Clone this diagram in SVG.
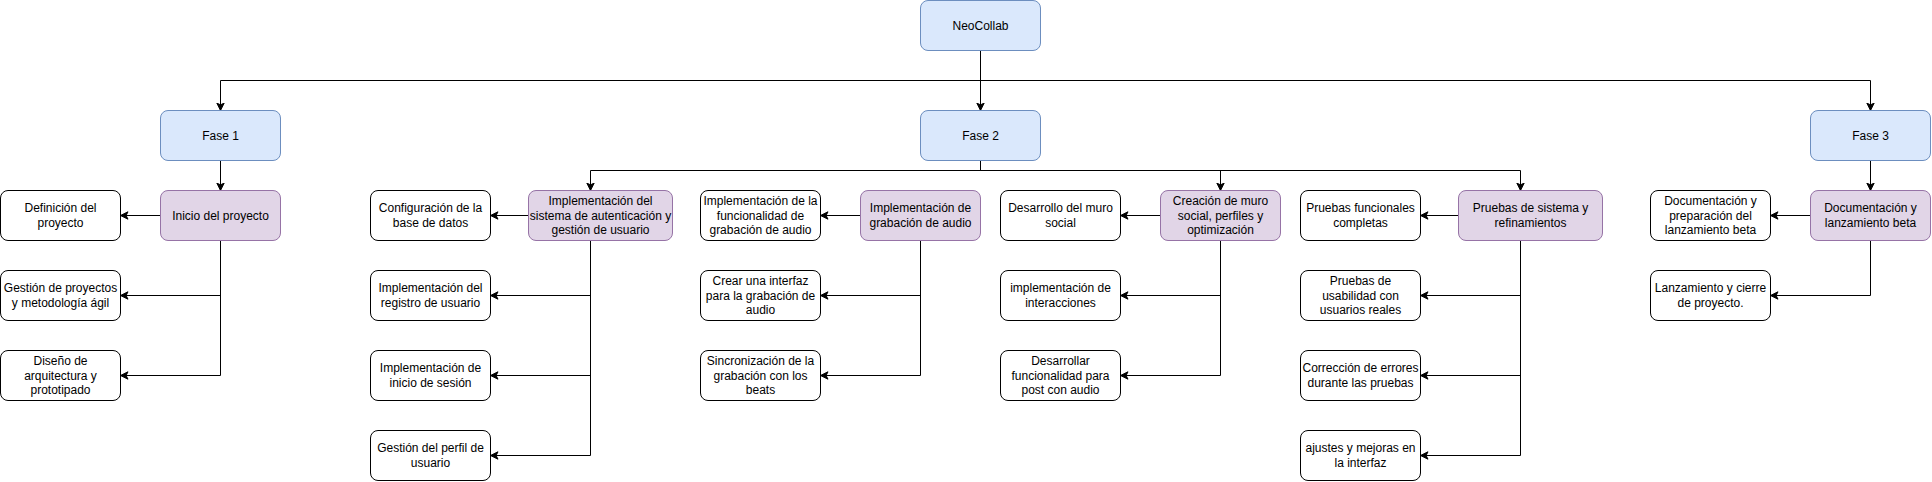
<svg xmlns="http://www.w3.org/2000/svg" width="1932" height="482" viewBox="0 0 1932 482">
<style>
.b{fill:#dae8fc;stroke:#6c8ebf;stroke-width:1}
.p{fill:#e1d5e7;stroke:#9673a6;stroke-width:1}
.w{fill:#ffffff;stroke:#000000;stroke-width:1}
text{font-family:"Liberation Sans",Arial,Helvetica,sans-serif;font-size:12px;fill:#000;text-anchor:middle}
.c path{fill:none;stroke:#000;stroke-width:1;marker-end:url(#arr)}
</style>
<defs>
<marker id="arr" markerUnits="userSpaceOnUse" markerWidth="10" markerHeight="10" refX="8" refY="4.5" orient="auto" viewBox="0 0 10 10">
<path d="M0.5,0.8 L8,4.5 L0.5,8.2 L2.4,4.5 Z" fill="#000" stroke="#000" stroke-width="1"/>
</marker>
</defs>
<rect width="1932" height="482" fill="#ffffff"/>
<g class="c" id="connectors">
<path d="M980.5,50.5 V80.5 H220.5 V110.5"/>
<path d="M980.5,50.5 V110.5"/>
<path d="M980.5,50.5 V80.5 H1870.5 V110.5"/>
<path d="M220.5,160.5 V190.5"/>
<path d="M160.5,215.5 H120.5"/>
<path d="M220.5,240.5 V295.5 H120.5"/>
<path d="M220.5,240.5 V375.5 H120.5"/>
<path d="M980.5,160.5 V170.5 H590.5 V190.5"/>
<path d="M980.5,160.5 V170.5 H1220.5 V190.5"/>
<path d="M980.5,160.5 V170.5 H1520.5 V190.5"/>
<path d="M528.5,215.5 H490.5"/>
<path d="M590.5,240.5 V295.5 H490.5"/>
<path d="M590.5,240.5 V375.5 H490.5"/>
<path d="M590.5,240.5 V455.5 H490.5"/>
<path d="M860.5,215.5 H820.5"/>
<path d="M920.5,240.5 V295.5 H820.5"/>
<path d="M920.5,240.5 V375.5 H820.5"/>
<path d="M1160.5,215.5 H1120.5"/>
<path d="M1220.5,240.5 V295.5 H1120.5"/>
<path d="M1220.5,240.5 V375.5 H1120.5"/>
<path d="M1458.5,215.5 H1420.5"/>
<path d="M1520.5,240.5 V295.5 H1420.5"/>
<path d="M1520.5,240.5 V375.5 H1420.5"/>
<path d="M1520.5,240.5 V455.5 H1420.5"/>
<path d="M1870.5,160.5 V190.5"/>
<path d="M1810.5,215.5 H1770.5"/>
<path d="M1870.5,240.5 V295.5 H1770.5"/>
</g>

<g id="neocollab"><rect class="b" x="920.5" y="0.5" width="120" height="50" rx="7.5"/><text x="980.5" y="29.5">NeoCollab</text></g>
<g id="fase1"><rect class="b" x="160.5" y="110.5" width="120" height="50" rx="7.5"/><text x="220.5" y="139.5">Fase 1</text></g>
<g id="fase2"><rect class="b" x="920.5" y="110.5" width="120" height="50" rx="7.5"/><text x="980.5" y="139.5">Fase 2</text></g>
<g id="fase3"><rect class="b" x="1810.5" y="110.5" width="120" height="50" rx="7.5"/><text x="1870.5" y="139.5">Fase 3</text></g>

<g id="inicio"><rect class="p" x="160.5" y="190.5" width="120" height="50" rx="7.5"/><text x="220.5" y="219.5">Inicio del proyecto</text></g>
<g id="definicion"><rect class="w" x="0.5" y="190.5" width="120" height="50" rx="7.5"/><text x="60.5" y="212.3">Definición del<tspan x="60.5" dy="14.4">proyecto</tspan></text></g>
<g id="gestion-proyectos"><rect class="w" x="0.5" y="270.5" width="120" height="50" rx="7.5"/><text x="60.5" y="292.3">Gestión de proyectos<tspan x="60.5" dy="14.4">y metodología ágil</tspan></text></g>
<g id="diseno"><rect class="w" x="0.5" y="350.5" width="120" height="50" rx="7.5"/><text x="60.5" y="365.1">Diseño de<tspan x="60.5" dy="14.4">arquitectura y</tspan><tspan x="60.5" dy="14.4">prototipado</tspan></text></g>

<g id="auth"><rect class="p" x="528.5" y="190.5" width="144" height="50" rx="7.5"/><text x="600.5" y="205.1">Implementación del<tspan x="600.5" dy="14.4">sistema de autenticación y</tspan><tspan x="600.5" dy="14.4">gestión de usuario</tspan></text></g>
<g id="config-bd"><rect class="w" x="370.5" y="190.5" width="120" height="50" rx="7.5"/><text x="430.5" y="212.3">Configuración de la<tspan x="430.5" dy="14.4">base de datos</tspan></text></g>
<g id="registro"><rect class="w" x="370.5" y="270.5" width="120" height="50" rx="7.5"/><text x="430.5" y="292.3">Implementación del<tspan x="430.5" dy="14.4">registro de usuario</tspan></text></g>
<g id="inicio-sesion"><rect class="w" x="370.5" y="350.5" width="120" height="50" rx="7.5"/><text x="430.5" y="372.3">Implementación de<tspan x="430.5" dy="14.4">inicio de sesión</tspan></text></g>
<g id="perfil"><rect class="w" x="370.5" y="430.5" width="120" height="50" rx="7.5"/><text x="430.5" y="452.3">Gestión del perfil de<tspan x="430.5" dy="14.4">usuario</tspan></text></g>

<g id="grabacion"><rect class="p" x="860.5" y="190.5" width="120" height="50" rx="7.5"/><text x="920.5" y="212.3">Implementación de<tspan x="920.5" dy="14.4">grabación de audio</tspan></text></g>
<g id="func-grabacion"><rect class="w" x="700.5" y="190.5" width="120" height="50" rx="7.5"/><text x="760.5" y="205.1">Implementación de la<tspan x="760.5" dy="14.4">funcionalidad de</tspan><tspan x="760.5" dy="14.4">grabación de audio</tspan></text></g>
<g id="interfaz-grabacion"><rect class="w" x="700.5" y="270.5" width="120" height="50" rx="7.5"/><text x="760.5" y="285.1">Crear una interfaz<tspan x="760.5" dy="14.4">para la grabación de</tspan><tspan x="760.5" dy="14.4">audio</tspan></text></g>
<g id="sincronizacion"><rect class="w" x="700.5" y="350.5" width="120" height="50" rx="7.5"/><text x="760.5" y="365.1">Sincronización de la<tspan x="760.5" dy="14.4">grabación con los</tspan><tspan x="760.5" dy="14.4">beats</tspan></text></g>

<g id="muro"><rect class="p" x="1160.5" y="190.5" width="120" height="50" rx="7.5"/><text x="1220.5" y="205.1">Creación de muro<tspan x="1220.5" dy="14.4">social, perfiles y</tspan><tspan x="1220.5" dy="14.4">optimización</tspan></text></g>
<g id="desarrollo-muro"><rect class="w" x="1000.5" y="190.5" width="120" height="50" rx="7.5"/><text x="1060.5" y="212.3">Desarrollo del muro<tspan x="1060.5" dy="14.4">social</tspan></text></g>
<g id="interacciones"><rect class="w" x="1000.5" y="270.5" width="120" height="50" rx="7.5"/><text x="1060.5" y="292.3">implementación de<tspan x="1060.5" dy="14.4">interacciones</tspan></text></g>
<g id="post-audio"><rect class="w" x="1000.5" y="350.5" width="120" height="50" rx="7.5"/><text x="1060.5" y="365.1">Desarrollar<tspan x="1060.5" dy="14.4">funcionalidad para</tspan><tspan x="1060.5" dy="14.4">post con audio</tspan></text></g>

<g id="pruebas"><rect class="p" x="1458.5" y="190.5" width="144" height="50" rx="7.5"/><text x="1530.5" y="212.3">Pruebas de sistema y<tspan x="1530.5" dy="14.4">refinamientos</tspan></text></g>
<g id="funcionales"><rect class="w" x="1300.5" y="190.5" width="120" height="50" rx="7.5"/><text x="1360.5" y="212.3">Pruebas funcionales<tspan x="1360.5" dy="14.4">completas</tspan></text></g>
<g id="usabilidad"><rect class="w" x="1300.5" y="270.5" width="120" height="50" rx="7.5"/><text x="1360.5" y="285.1">Pruebas de<tspan x="1360.5" dy="14.4">usabilidad con</tspan><tspan x="1360.5" dy="14.4">usuarios reales</tspan></text></g>
<g id="correccion"><rect class="w" x="1300.5" y="350.5" width="120" height="50" rx="7.5"/><text x="1360.5" y="372.3">Corrección de errores<tspan x="1360.5" dy="14.4">durante las pruebas</tspan></text></g>
<g id="ajustes"><rect class="w" x="1300.5" y="430.5" width="120" height="50" rx="7.5"/><text x="1360.5" y="452.3">ajustes y mejoras en<tspan x="1360.5" dy="14.4">la interfaz</tspan></text></g>

<g id="doc-lanzamiento"><rect class="p" x="1810.5" y="190.5" width="120" height="50" rx="7.5"/><text x="1870.5" y="212.3">Documentación y<tspan x="1870.5" dy="14.4">lanzamiento beta</tspan></text></g>
<g id="doc-preparacion"><rect class="w" x="1650.5" y="190.5" width="120" height="50" rx="7.5"/><text x="1710.5" y="205.1">Documentación y<tspan x="1710.5" dy="14.4">preparación del</tspan><tspan x="1710.5" dy="14.4">lanzamiento beta</tspan></text></g>
<g id="cierre"><rect class="w" x="1650.5" y="270.5" width="120" height="50" rx="7.5"/><text x="1710.5" y="292.3">Lanzamiento y cierre<tspan x="1710.5" dy="14.4">de proyecto.</tspan></text></g>
</svg>
